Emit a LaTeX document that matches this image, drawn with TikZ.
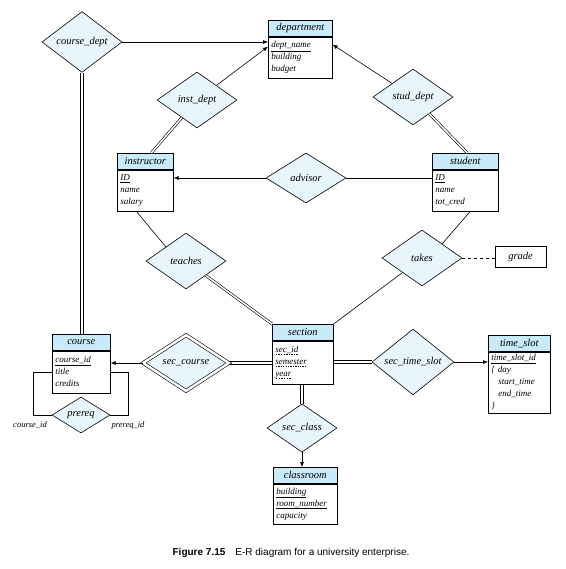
\documentclass[tikz,border=0pt]{standalone}
\usepackage{fontspec}
\usetikzlibrary{positioning,arrows.meta,shapes.geometric,calc}
\newfontfamily\capfont{Liberation Sans}
\newfontfamily\erfont{Liberation Serif}
\definecolor{hdrblue}{RGB}{200,234,250}
\definecolor{relblue}{RGB}{232,245,252}
% dashed underline for partial keys
\newsavebox\dulbox
\newcommand\dul[1]{\leavevmode\sbox\dulbox{#1}\rlap{\raisebox{-1.8pt}{\hbox to \wd\dulbox{\xleaders\hbox to 2.4pt{\hss\vrule width 1.4pt height 0.5pt\hss}\hfill}}}\usebox\dulbox}

\begin{document}
\begin{tikzpicture}[
  x=1pt, y=-1pt, line width=0.6pt,
  entity/.style={rectangle, draw, fill=hdrblue, anchor=north west, minimum height=16pt,
                 inner sep=0pt, font=\erfont\fontsize{10.5}{12}\selectfont\itshape},
  attrs/.style={rectangle, draw, fill=white, align=left, inner xsep=3pt, inner ysep=2pt,
                minimum height=41pt, font=\erfont\fontsize{9}{12}\selectfont\itshape},
  rel/.style={diamond, draw, fill=relblue, inner sep=0pt, minimum width=80pt, minimum height=56pt,
              font=\erfont\fontsize{10.5}{12}\selectfont\itshape},
  arrow/.style={-{Latex[length=5pt,width=4pt]}},
  total/.style={double, double distance=1.5pt},
  lbl/.style={font=\erfont\fontsize{8.5}{10}\selectfont\itshape}
]
\useasboundingbox (0,0) rectangle (565,569);

% entities
\node[entity, minimum width=64pt] (dept) at (268,20) {department};
\node[attrs, text width=58pt, below=0pt of dept] (dept-a) {\underline{dept\_name}\\ building\\ budget};
\node[entity, minimum width=56pt] (instr) at (117,153) {instructor};
\node[attrs, text width=50pt, below=0pt of instr] (instr-a) {\underline{ID}\\ name\\ salary};
\node[entity, minimum width=66pt] (stud) at (432,153) {student};
\node[attrs, text width=60pt, below=0pt of stud] (stud-a) {\underline{ID}\\ name\\ tot\_cred};
\node[entity, minimum width=61pt] (sect) at (272,324) {section};
\node[attrs, text width=55pt, minimum height=43pt, below=0pt of sect] (sect-a) {\dul{sec\_id}\\ \dul{semester}\\ \dul{year}};
\node[entity, minimum width=58pt] (course) at (52,334) {course};
\node[attrs, text width=52pt, minimum height=42pt, below=0pt of course] (course-a) {\underline{course\_id}\\ title\\ credits};
\node[entity, minimum width=62pt] (tslot) at (488,335) {time\_slot};
\node[attrs, text width=56pt, minimum height=61pt, below=0pt of tslot] (tslot-a) {\underline{time\_slot\_id}\\ \{\ day\\ \hspace*{7pt}start\_time\\ \hspace*{7pt}end\_time\\ \}};
\node[entity, minimum width=64pt] (room) at (273,467) {classroom};
\node[attrs, text width=58pt, minimum height=40pt, below=0pt of room] (room-a) {\underline{building}\\ \underline{room\_number}\\ capacity};
\node[draw, minimum width=51pt, minimum height=21pt, font=\erfont\fontsize{10.5}{12}\selectfont\itshape] (grade) at (520.5,256.5) {grade};

% relationships
\node[rel, minimum height=50pt] (cdept) at (82,42) {course\_dept};
\node[rel] (idept) at (197,100) {inst\_dept};
\node[rel] (sdept) at (413,97) {stud\_dept};
\node[rel, minimum height=50pt] (adv) at (306,178) {advisor};
\node[rel] (teaches) at (186,261) {teaches};
\node[rel] (takes) at (422,258) {takes};
\node[rel, minimum width=86pt, double, double distance=2.5pt] (scourse) at (186,363) {sec\_course};
\node[rel, minimum width=82pt, minimum height=52pt] (sts) at (413,362) {sec\_time\_slot};
\node[rel, minimum width=70pt, minimum height=48pt] (sclass) at (302,428) {sec\_class};
\node[rel, minimum width=58pt, minimum height=36pt] (prereq) at (81,415) {prereq};

% connectors
\draw[arrow] (cdept) -- (cdept -| dept-a.west);
\draw[arrow] (idept) -- ($(dept-a.north west)+(0,10)$);
\draw[arrow] (sdept) -- ($(dept-a.north east)+(0,8)$);
\draw[total] (idept) -- ($(instr.north)+(6,0)$);
\draw[total] (sdept) -- ($(stud.north)+(2,0)$);
\draw[arrow] (adv) -- (adv -| instr-a.east);
\draw (adv) -- (adv -| stud-a.west);
\draw ($(instr-a.south)+(-9,0)$) -- (teaches.north west);
\draw ($(stud-a.south)+(5,0)$) -- (takes.north east);
\draw[total] (teaches) -- (sect.north west);
\draw (takes) -- (sect.north east);
\draw[dashed] (takes.east) -- (takes.east -| grade.west);
\draw[arrow] (scourse) -- (scourse -| course-a.east);
\draw[arrow] (sts) -- (sts -| tslot-a.west);
\draw[arrow] (sclass) -- (sclass |- room.north);
\draw (course-a.west) -- ++(-19,0) |- (prereq.west);
\draw (course-a.east) -- ++(18,0) |- (prereq.east);

% straight total participation lines
\foreach \d in {-1.3,1.3} {
  \draw ($(cdept.south)+(\d,0)$) -- ($(cdept.south |- course.north)+(\d,0)$);
  \draw ($(scourse.east)+(0,\d)$) -- ($(scourse.east -| sect-a.west)+(0,\d)$);
  \draw ($(sts.west)+(0,\d)$) -- ($(sts.west -| sect-a.east)+(0,\d)$);
  \draw ($(sclass.north)+(\d,0)$) -- ($(sclass.north |- sect-a.south)+(\d,0)$);
}

\node[lbl] (cid) at (30,425) {course\_id};
\node[lbl] (pid) at (128,425) {prereq\_id};

\node[font=\capfont\fontsize{10}{12}\selectfont] (cap) at (291,553) {\textbf{Figure 7.15}\quad E-R diagram for a university enterprise.};

\end{tikzpicture}
\end{document}
